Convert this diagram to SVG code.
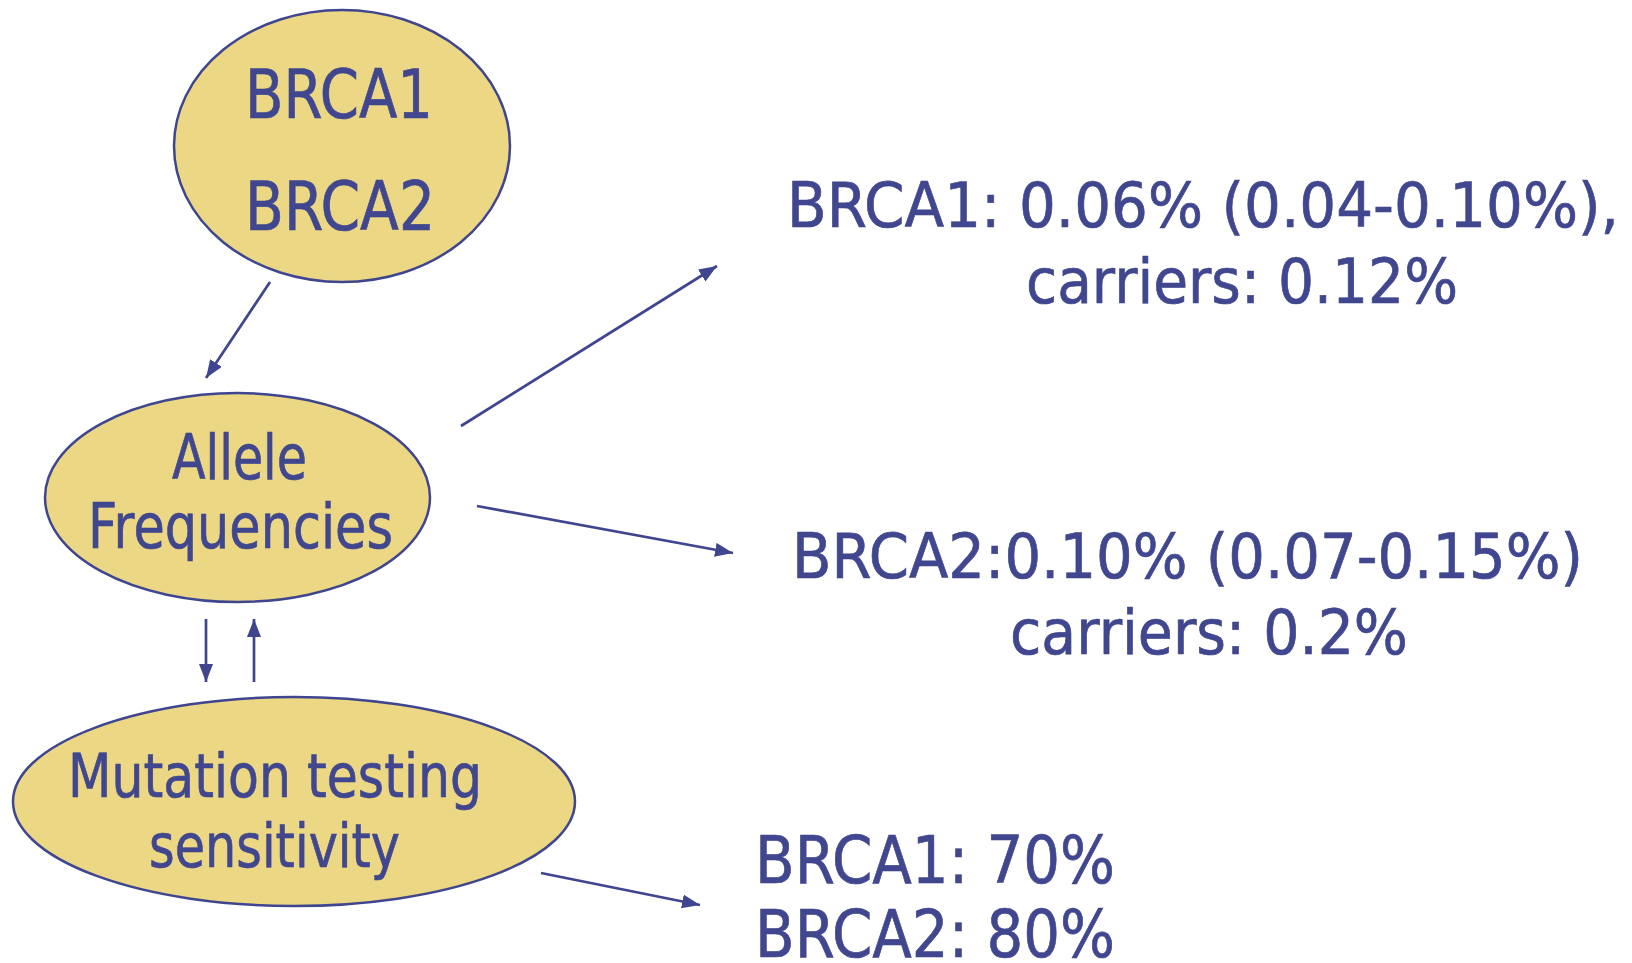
<svg xmlns="http://www.w3.org/2000/svg" width="1632" height="963" viewBox="0 0 1632 963">
<style>
.node ellipse{fill:#EBD784;stroke:#3F468F;stroke-width:2.5}
.t{font-family:"DejaVu Sans","Liberation Sans",sans-serif;fill:#40478E;stroke:#40478E;stroke-width:0.7}
.edge{stroke:#3F468F;stroke-width:2.7;fill:none;marker-end:url(#ah)}
</style>
<defs>
<marker id="ah" markerUnits="userSpaceOnUse" markerWidth="20" markerHeight="16" refX="18" refY="7" orient="auto">
<path d="M0,0 L18,7 L0,14 z" fill="#3F468F"/>
</marker>
</defs>
<rect width="1632" height="963" fill="#ffffff"/>
<g id="node-brca" class="node">
<ellipse cx="342" cy="146" rx="168" ry="136"/>
<text class="t" x="245" y="118" font-size="67" textLength="188" lengthAdjust="spacingAndGlyphs">BRCA1</text>
<text class="t" x="245" y="230" font-size="67" textLength="190" lengthAdjust="spacingAndGlyphs">BRCA2</text>
</g>
<g id="node-allele" class="node">
<ellipse cx="237.5" cy="497.5" rx="192.5" ry="104.5"/>
<text class="t" x="172" y="479" font-size="62" textLength="135" lengthAdjust="spacingAndGlyphs">Allele</text>
<text class="t" x="88" y="548" font-size="62" textLength="305" lengthAdjust="spacingAndGlyphs">Frequencies</text>
</g>
<g id="node-mutation" class="node">
<ellipse cx="294" cy="801.5" rx="281" ry="104.5"/>
<text class="t" x="68" y="797" font-size="61" textLength="414" lengthAdjust="spacingAndGlyphs">Mutation testing</text>
<text class="t" x="149" y="867" font-size="61" textLength="251" lengthAdjust="spacingAndGlyphs">sensitivity</text>
</g>
<g id="label-brca1-freq">
<text class="t" x="787" y="227" font-size="62" textLength="832" lengthAdjust="spacingAndGlyphs">BRCA1: 0.06% (0.04-0.10%),</text>
<text class="t" x="1026" y="303" font-size="62" textLength="432" lengthAdjust="spacingAndGlyphs">carriers: 0.12%</text>
</g>
<g id="label-brca2-freq">
<text class="t" x="792" y="578" font-size="62" textLength="791" lengthAdjust="spacingAndGlyphs">BRCA2:0.10% (0.07-0.15%)</text>
<text class="t" x="1010" y="654" font-size="62" textLength="398" lengthAdjust="spacingAndGlyphs">carriers: 0.2%</text>
</g>
<g id="label-sensitivity">
<text class="t" x="755" y="883" font-size="66" textLength="360" lengthAdjust="spacingAndGlyphs">BRCA1: 70%</text>
<text class="t" x="755" y="957" font-size="66" textLength="360" lengthAdjust="spacingAndGlyphs">BRCA2: 80%</text>
</g>
<g id="connectors">
<line class="edge" x1="270" y1="282" x2="206" y2="378"/>
<line class="edge" x1="206" y1="619" x2="206" y2="682"/>
<line class="edge" x1="254" y1="682" x2="254" y2="619"/>
<line class="edge" x1="461" y1="426" x2="717" y2="266"/>
<line class="edge" x1="477" y1="506" x2="733" y2="553"/>
<line class="edge" x1="541" y1="873" x2="700" y2="905"/>
</g>
</svg>
